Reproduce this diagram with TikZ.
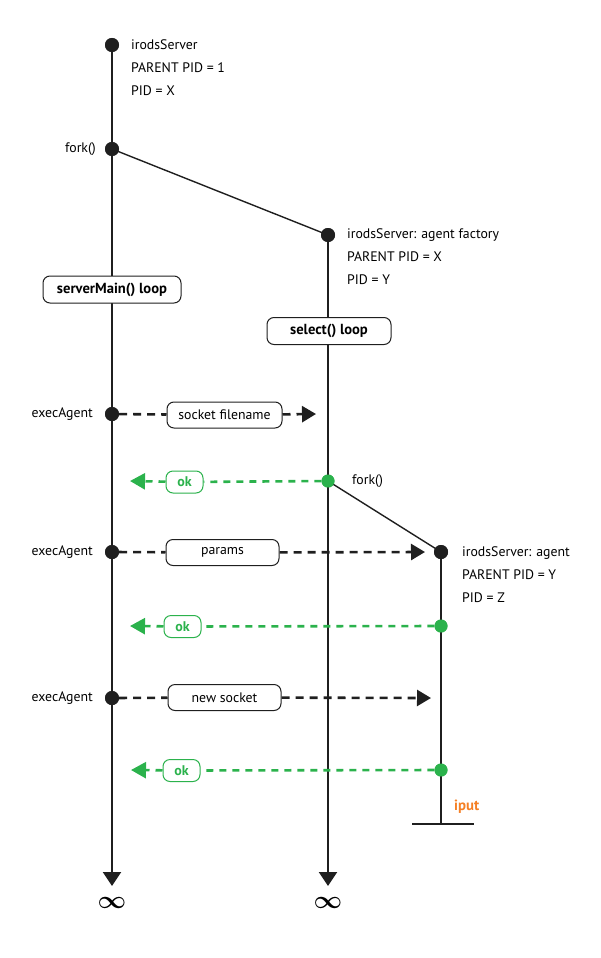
\documentclass[tikz,border=0pt]{standalone}
\usepackage{fontspec}
\setmainfont{PT Sans}
\usepackage{tikz}
\usetikzlibrary{arrows.meta}
\definecolor{okgreen}{RGB}{43,178,76}
\definecolor{iputorange}{RGB}{245,128,37}
\tikzstyle{procDot} = [circle, fill=black!88, inner sep=0pt, minimum size=14pt]
\tikzstyle{okDot} = [circle, fill=okgreen, inner sep=0pt, minimum size=13pt]
\tikzstyle{infoText} = [inner sep=0pt, align=left, font=\fontsize{13.8}{23}\selectfont]
\tikzstyle{msgBox} = [rectangle, rounded corners=7pt, draw=black!88, fill=white, line width=1pt, minimum height=26pt, inner sep=2pt, text centered, font=\fontsize{13.8}{15}\selectfont]
\tikzstyle{loopBox} = [msgBox, minimum height=27pt, font=\fontsize{14.6}{16}\selectfont\bfseries]
\tikzstyle{okBox} = [msgBox, draw=okgreen, text=okgreen, minimum width=37pt, minimum height=22pt, font=\fontsize{14}{15}\selectfont\bfseries]
\tikzstyle{infSign} = [inner sep=0pt, font=\fontsize{23}{25}\selectfont\boldmath]
\tikzstyle{lifeline} = [line width=2pt, draw=black!88]
\tikzstyle{lifeEnd} = [lifeline, -{Triangle[length=14pt,width=18pt]}]
\tikzstyle{forkLine} = [line width=1.4pt, draw=black!88]
\tikzstyle{sendLine} = [line width=2.6pt, draw=black!88, dash pattern=on 8pt off 6pt]
\tikzstyle{sendArrow} = [sendLine, -{Triangle[length=14pt,width=16pt]}]
\tikzstyle{okLine} = [line width=2.6pt, draw=okgreen, dash pattern=on 7pt off 6pt]
\tikzstyle{okArrow} = [okLine, -{Triangle[length=15pt,width=16pt]}]

\begin{document}
\begin{tikzpicture}[x=1pt, y=-1pt]
    \useasboundingbox (0,0) rectangle (600,958);
    % irodsServer
    \node (server) [procDot] at (112,45) {};
    \node (serverInfo) [infoText, anchor=west] at (131,68) {irodsServer\\PARENT PID = 1\\PID = X};
    \node (serverFork) [procDot] at (112,149) {};
    \node (serverForkText) [infoText, anchor=east] at (96,149) {fork()};
    \coordinate (serverEnd) at (112,886);
    \node (serverInf) [infSign] at (112,903) {$\infty$};
    % agent factory
    \node (factory) [procDot] at (328,235) {};
    \node (factoryInfo) [infoText, anchor=west] at (347,257) {irodsServer: agent factory\\PARENT PID = X\\PID = Y};
    \coordinate (factoryEnd) at (328,886);
    \node (factoryInf) [infSign] at (328,903) {$\infty$};
    % execAgent: socket filename
    \node (exec1) [procDot] at (112,414) {};
    \node (exec1Text) [infoText, anchor=east] at (93,414) {execAgent};
    \node (sockBox) [msgBox, minimum width=115pt] at (224.5,415) {socket filename};
    \coordinate (sockEnd) at (316,414);
    \node (ok1) [okDot] at (328,481) {};
    \node (ok1Box) [okBox] at (184.5,482) {ok};
    \coordinate (ok1End) at (130,481);
    \node (factoryForkText) [infoText, anchor=west] at (352,481) {fork()};
    % agent
    \node (agent) [procDot] at (441,552) {};
    \node (agentInfo) [infoText, anchor=west] at (462,575) {irodsServer: agent\\PARENT PID = Y\\PID = Z};
    \coordinate (agentEnd) at (441,824);
    \coordinate (barLeft) at (412,824);
    \coordinate (barRight) at (474,824);
    \node (iput) [anchor=west, inner sep=0pt, text=iputorange, font=\fontsize{14.8}{16}\selectfont\bfseries] at (454,807) {iput};
    % execAgent: params
    \node (exec2) [procDot] at (112,552) {};
    \node (exec2Text) [infoText, anchor=east] at (93,552) {execAgent};
    \node (paramsBox) [msgBox, minimum width=113pt] at (222.5,552.5) {params};
    \coordinate (paramsEnd) at (425,552);
    \node (ok2) [okDot] at (441,626) {};
    \node (ok2Box) [okBox] at (182.5,626.5) {ok};
    \coordinate (ok2End) at (130,626);
    % execAgent: new socket
    \node (exec3) [procDot] at (112,698) {};
    \node (exec3Text) [infoText, anchor=east] at (93,698) {execAgent};
    \node (newSockBox) [msgBox, minimum width=113pt] at (224.5,697.5) {new socket};
    \coordinate (newSockEnd) at (431,698);
    \node (ok3) [okDot] at (441,770) {};
    \node (ok3Box) [okBox] at (181.5,770.5) {ok};
    \coordinate (ok3End) at (131,770);

    \draw [lifeEnd] (server) -- (serverEnd);
    \draw [lifeEnd] (factory) -- (factoryEnd);
    \draw [lifeline] (agent) -- (agentEnd);
    \draw [forkLine] (barLeft) -- (barRight);
    % loops, over the lifelines
    \node (mainLoop) [loopBox, minimum width=138pt] at (112,289.5) {serverMain() loop};
    \node (selectLoop) [loopBox, minimum width=124pt] at (329,331) {select() loop};
    % forks
    \draw [forkLine] (serverFork.center) -- (factory.center);
    \draw [forkLine] (ok1.center) -- (agent.center);
    % messages
    \draw [sendLine] (exec1) -- (sockBox);
    \draw [sendArrow] (sockBox) -- (sockEnd);
    \draw [okLine] (ok1) -- (ok1Box);
    \draw [okArrow] (ok1Box) -- (ok1End);
    %
    \draw [sendLine] (exec2) -- (paramsBox);
    \draw [sendArrow] (paramsBox) -- (paramsEnd);
    \draw [okLine] (ok2) -- (ok2Box);
    \draw [okArrow] (ok2Box) -- (ok2End);
    %
    \draw [sendLine] (exec3) -- (newSockBox);
    \draw [sendArrow] (newSockBox) -- (newSockEnd);
    \draw [okLine] (ok3) -- (ok3Box);
    \draw [okArrow] (ok3Box) -- (ok3End);
    % dots on top
    \foreach \d in {server, serverFork, factory, exec1, exec2, exec3, agent}
        \node [procDot] at (\d) {};
    \foreach \d in {ok1, ok2, ok3}
        \node [okDot] at (\d) {};
\end{tikzpicture}
\end{document}
